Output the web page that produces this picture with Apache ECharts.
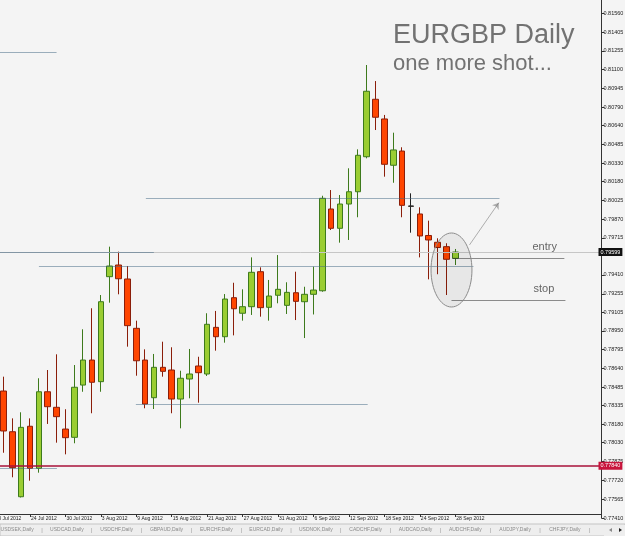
<!DOCTYPE html>
<html>
<head>
<meta charset="utf-8">
<title>EURGBP Daily</title>
<script src="https://cdn.jsdelivr.net/npm/echarts@6/dist/echarts.min.js"></script>
<style>
html, body { margin: 0; padding: 0; background: #f4f4f4; }
#chart { width: 625px; height: 536px; }
</style>
</head>
<body>
<div id="chart"></div>
<script>
// daily bars, 18 Jul is only there for its axis label
const dates = ['18 Jul', '19 Jul', '20 Jul', '23 Jul', '24 Jul', '25 Jul', '26 Jul', '27 Jul', '30 Jul', '31 Jul',
  '1 Aug', '2 Aug', '3 Aug', '6 Aug', '7 Aug', '8 Aug', '9 Aug', '10 Aug', '13 Aug', '14 Aug', '15 Aug', '16 Aug',
  '17 Aug', '20 Aug', '21 Aug', '22 Aug', '23 Aug', '24 Aug', '27 Aug', '28 Aug', '29 Aug', '30 Aug', '31 Aug',
  '3 Sep', '4 Sep', '5 Sep', '6 Sep', '7 Sep', '10 Sep', '11 Sep', '12 Sep', '13 Sep', '14 Sep', '17 Sep', '18 Sep',
  '19 Sep', '20 Sep', '21 Sep', '24 Sep', '25 Sep', '26 Sep', '27 Sep', '28 Sep']
const open = [null, 0.78455, 0.78120, 0.77585, 0.78165, 0.77819, 0.78449, 0.78321, 0.78142, 0.78074, 0.78504,
  0.78710, 0.78532, 0.79396, 0.79492, 0.79377, 0.78971, 0.78710, 0.78400, 0.78650, 0.78628, 0.78389, 0.78554,
  0.78661, 0.78595, 0.78979, 0.78902, 0.79223, 0.79095, 0.79149, 0.79437, 0.79144, 0.79243, 0.79160, 0.79264,
  0.79190, 0.79251, 0.79280, 0.79953, 0.79794, 0.79994, 0.80095, 0.80383, 0.80856, 0.80694, 0.80313, 0.80430,
  0.79978, 0.79912, 0.79735, 0.79679, 0.79643, 0.79547]
const close = [null, 0.78126, 0.77824, 0.78156, 0.77819, 0.78449, 0.78326, 0.78244, 0.78071, 0.78486, 0.78710,
  0.78527, 0.79190, 0.79484, 0.79379, 0.78993, 0.78704, 0.78348, 0.78650, 0.78617, 0.78389, 0.78560, 0.78595,
  0.78606, 0.79004, 0.78902, 0.79212, 0.79132, 0.79149, 0.79432, 0.79141, 0.79237, 0.79292, 0.79267, 0.79193,
  0.79251, 0.79286, 0.80041, 0.79794, 0.79994, 0.80095, 0.80395, 0.80922, 0.80708, 0.80321, 0.80439, 0.79983,
  0.79975, 0.79731, 0.79698, 0.79636, 0.79539, 0.79599]
const low = [null, 0.77947, 0.77745, 0.77579, 0.77717, 0.77783, 0.78184, 0.78030, 0.77934, 0.78025, 0.78449,
  0.78272, 0.78449, 0.79182, 0.79251, 0.78820, 0.78581, 0.78313, 0.78307, 0.78573, 0.78272, 0.78148, 0.78395,
  0.78359, 0.78579, 0.78787, 0.78853, 0.78913, 0.79034, 0.79081, 0.79067, 0.79034, 0.79177, 0.79089, 0.79039,
  0.78891, 0.79085, 0.79272, 0.79780, 0.79676, 0.79698, 0.79885, 0.80370, 0.80603, 0.80219, 0.80169, 0.79885,
  0.79758, 0.79555, 0.79374, 0.79416, 0.79245, 0.79492]
const high = [null, 0.78573, 0.78230, 0.78280, 0.78230, 0.78560, 0.78628, 0.78757, 0.78305, 0.78669, 0.78963,
  0.79136, 0.79245, 0.79643, 0.79602, 0.79484, 0.79034, 0.78798, 0.78760, 0.78861, 0.78815, 0.78622, 0.78801,
  0.78737, 0.79095, 0.79114, 0.79253, 0.79346, 0.79292, 0.79555, 0.79473, 0.79369, 0.79574, 0.79350, 0.79437,
  0.79313, 0.79478, 0.80062, 0.80109, 0.80068, 0.80288, 0.80444, 0.81138, 0.81006, 0.80727, 0.80581, 0.80461,
  0.80082, 0.79967, 0.79857, 0.79712, 0.79671, 0.79624]
const dojiDays = ['21 Sep']

const priceTicks = [0.81560, 0.81405, 0.81255, 0.81100, 0.80945, 0.80790, 0.80640, 0.80485, 0.80330, 0.80180,
  0.80025, 0.79870, 0.79715, 0.79410, 0.79255, 0.79105, 0.78950, 0.78795, 0.78640, 0.78485, 0.78335, 0.78180,
  0.78030, 0.77875, 0.77720, 0.77565, 0.77410]
const alertLevel = 0.77840

// drawn objects, x in bar units (0 = 18 Jul)
const levelValues = [0.81245, 0.80041, 0.79599, 0.79484, 0.78348, 0.77821]
const levelFrom = [-0.5, 17.08, -0.5, 5.01, 15.95, -0.5]
const levelTo = [7.0, 56.99, 17.98, 54.05, 42.11, 7.04]
const tradeNames = ['entry', 'stop']
const tradeValues = [0.79547, 0.79204]
const tradeFrom = [51.69, 51.57]
const tradeTo = [64.31, 64.43]
const arrowFrom = [53.6, 0.79657]
const arrowTo = [56.91, 0.80005]
const circleCenter = [51.57, 0.79451]
const circleRadius = [2.31, 0.003045]

const tabs = ['USDSEK,Daily', 'USDCAD,Daily', 'USDCHF,Daily', 'GBPAUD,Daily', 'EURCHF,Daily', 'EURCAD,Daily',
  'USDNOK,Daily', 'CADCHF,Daily', 'AUDCAD,Daily', 'AUDCHF,Daily', 'AUDJPY,Daily', 'CHFJPY,Daily', 'AL']

const FONT = "'Liberation Sans', Arial, sans-serif"
const BLUE = '#3f6682'
const PAD = 16

const categories = dates.concat(new Array(PAD).fill(''))
const candleData = open.map((o, i) => {
  if (o === null) return ['-', '-', '-', '-']
  const item = { value: [o, close[i], low[i], high[i]] }
  if (dojiDays.indexOf(dates[i]) >= 0) {
    item.itemStyle = { borderColor: '#222', borderColor0: '#222' }
  }
  return item
})
const lastClose = close[close.length - 1]
const everyFourth = (idx, val) => idx % 4 === 0 && val !== ''

const segments = levelValues.map((v, i) => ({
  coords: [[levelFrom[i], v], [levelTo[i], v]],
  lineStyle: { color: BLUE, width: 1 }
})).concat(tradeValues.map((v, i) => ({
  coords: [[tradeFrom[i], v], [tradeTo[i], v]],
  lineStyle: { color: '#222', width: 1 }
})))

const chart = echarts.init(document.getElementById('chart'))

const option = {
  animation: false,
  backgroundColor: '#f4f4f4',
  grid: { left: -9.9, width: 611.4, top: 0, bottom: 18, containLabel: false, outerBoundsMode: 'none' },
  xAxis: [
    {
      type: 'category',
      data: categories,
      boundaryGap: true,
      offset: -4,
      axisLine: { onZero: false, lineStyle: { color: '#333', width: 1 } },
      axisTick: { show: true, interval: everyFourth, alignWithLabel: true, length: 3, lineStyle: { color: '#333' } },
      axisLabel: {
        interval: everyFourth,
        formatter: v => v ? v + ' 2012' : '',
        align: 'left',
        margin: 2,
        padding: [0, 0, 0, 1],
        color: '#222',
        fontSize: 5,
        fontFamily: FONT
      },
      splitLine: { show: false }
    },
    { type: 'value', min: -0.5, max: categories.length - 0.5, show: false }
  ],
  yAxis: {
    type: 'value',
    position: 'right',
    min: 0.7741,
    max: 0.81673,
    axisLine: { show: true, onZero: false, lineStyle: { color: '#333', width: 1 } },
    axisTick: { show: true, length: 3, customValues: priceTicks, lineStyle: { color: '#333' } },
    axisLabel: {
      customValues: priceTicks,
      formatter: v => v.toFixed(5),
      margin: 2,
      color: '#222',
      fontSize: 5.5,
      fontFamily: FONT
    },
    splitLine: { show: false }
  },
  series: [
    {
      type: 'candlestick',
      xAxisIndex: 0,
      data: candleData,
      barWidth: 6,
      itemStyle: {
        color: '#9acd32',
        color0: '#ff4500',
        borderColor: '#3d7a1c',
        borderColor0: '#8b1e0a',
        borderWidth: 1
      },
      markLine: {
        silent: true,
        symbol: 'none',
        precision: 5,
        animation: false,
        data: [
          {
            yAxis: lastClose,
            lineStyle: { color: '#c6c6c6', width: 1, type: 'solid' },
            label: {
              position: 'end', distance: -3, formatter: p => p.value.toFixed(5),
              backgroundColor: '#111', color: '#fff', padding: [1, 2, 1, 2],
              fontSize: 5.5, fontFamily: FONT
            }
          },
          {
            yAxis: alertLevel,
            lineStyle: { color: '#a8123a', width: 1.5, type: 'solid' },
            label: {
              position: 'end', distance: -3, formatter: p => p.value.toFixed(5),
              backgroundColor: '#c8143c', color: '#fff', padding: [1, 2, 1, 2],
              fontSize: 5.5, fontFamily: FONT
            }
          }
        ]
      }
    },
    {
      type: 'lines',
      coordinateSystem: 'cartesian2d',
      xAxisIndex: 1,
      yAxisIndex: 0,
      z: 5,
      symbol: 'none',
      data: segments
    },
    {
      type: 'lines',
      coordinateSystem: 'cartesian2d',
      xAxisIndex: 1,
      yAxisIndex: 0,
      z: 5,
      symbol: ['none', 'arrow'],
      symbolSize: 6,
      lineStyle: { color: '#666', width: 1 },
      data: [{ coords: [arrowFrom, arrowTo] }]
    }
  ]
}
chart.setOption(option)

function px (x, v) {
  return chart.convertToPixel({ xAxisIndex: 1, yAxisIndex: 0 }, [x, v])
}

const c = px(circleCenter[0], circleCenter[1])
const e = px(circleCenter[0] + circleRadius[0], circleCenter[1] + circleRadius[1])

const graphics = [
  {
    type: 'ellipse',
    shape: { cx: c[0], cy: c[1], rx: e[0] - c[0], ry: c[1] - e[1] },
    style: { fill: 'rgba(0,0,0,0.05)', stroke: '#8c8c8c', lineWidth: 1 },
    z: 6
  },
  {
    type: 'text', left: 393, top: 22,
    style: { text: 'EURGBP Daily', fill: '#727272', font: '27px ' + FONT }
  },
  {
    type: 'text', left: 393, top: 53,
    style: { text: 'one more shot...', fill: '#727272', font: '22px ' + FONT }
  }
]

tradeNames.forEach((name, i) => {
  const p = px(tradeTo[i] - 3.6, tradeValues[i])
  graphics.push({
    type: 'text', x: p[0], y: p[1] - 11,
    style: { text: name, fill: '#666', font: '11px ' + FONT, verticalAlign: 'middle' }
  })
})

// tab strip at the bottom
graphics.push({
  type: 'rect', shape: { x: 0, y: 524, width: 625, height: 12 },
  style: { fill: '#eeeeee', stroke: '#c4c4c4', lineWidth: 1 }
})
const sepStart = 42
const sepGap = 49.8
tabs.forEach((t, i) => {
  const cx = sepStart + (i - 0.5) * sepGap
  graphics.push({
    type: 'text', x: cx, y: 530,
    style: { text: t, fill: '#8a8a8a', font: '5px ' + FONT, align: 'center', verticalAlign: 'middle' }
  })
  if (i < tabs.length - 1) {
    graphics.push({
      type: 'text', x: sepStart + i * sepGap, y: 530,
      style: { text: '|', fill: '#9a9a9a', font: '6px ' + FONT, align: 'center', verticalAlign: 'middle' }
    })
  }
})
graphics.push({
  type: 'rect', shape: { x: 604, y: 525, width: 21, height: 11 },
  style: { fill: '#eeeeee' }
})
graphics.push({
  type: 'polygon', shape: { points: [[612, 528], [612, 532], [609, 530]] },
  style: { fill: '#888' }
})
graphics.push({
  type: 'polygon', shape: { points: [[619, 528], [619, 532], [622, 530]] },
  style: { fill: '#222' }
})

chart.setOption({ graphic: graphics })
</script>
</body>
</html>
